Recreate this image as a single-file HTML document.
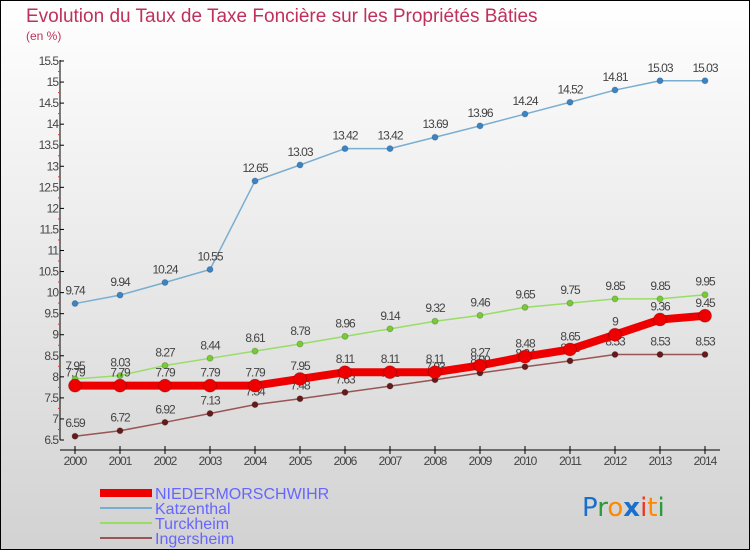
<!DOCTYPE html>
<html><head><meta charset="utf-8"><style>
body{margin:0;width:750px;height:550px;overflow:hidden}
svg{display:block;font-family:"Liberation Sans",sans-serif}
</style></head><body>
<svg id="c" width="750" height="550">
<defs><linearGradient id="bg" x1="0" y1="0" x2="0" y2="1"><stop offset="0" stop-color="#ffffff"/><stop offset="1" stop-color="#d2d2d2"/></linearGradient></defs>
<rect x="0.5" y="0.5" width="749" height="549" fill="url(#bg)" stroke="#000"/>
<text x="26" y="22" font-size="19" fill="#c0305a">Evolution du Taux de Taxe Foncière sur les Propriétés Bâties</text>
<text x="26" y="40" font-size="12" fill="#c0305a">(en %)</text>
<g id="axes"></g><g id="series"></g>
<g>
<line x1="100" y1="493" x2="152" y2="493" stroke="#ee0000" stroke-width="8"/>
<text x="155" y="499" font-size="16" fill="#6666ff">NIEDERMORSCHWIHR</text>
<line x1="100" y1="508" x2="152" y2="508" stroke="#7aaed0" stroke-width="2"/>
<text x="155" y="514" font-size="16" fill="#6666ff">Katzenthal</text>
<line x1="100" y1="523" x2="152" y2="523" stroke="#99dd66" stroke-width="2"/>
<text x="155" y="529" font-size="16" fill="#6666ff">Turckheim</text>
<line x1="100" y1="538" x2="152" y2="538" stroke="#995555" stroke-width="2"/>
<text x="155" y="544" font-size="16" fill="#6666ff">Ingersheim</text>
</g>
<g font-size="26" font-family="'DejaVu Sans',sans-serif">
<text x="582" y="516"><tspan fill="#1a6fcc">P</tspan><tspan fill="#2a9a3a">r</tspan><tspan fill="#ff8800">o</tspan><tspan fill="#1a6fcc" font-weight="bold">x</tspan><tspan fill="#ee3322">i</tspan><tspan fill="#ff8800">t</tspan><tspan fill="#2a9a3a">i</tspan></text>
</g>
</svg>
<script>
const years=[2000,2001,2002,2003,2004,2005,2006,2007,2008,2009,2010,2011,2012,2013,2014];
const yTicks=[6.5,7,7.5,8,8.5,9,9.5,10,10.5,11,11.5,12,12.5,13,13.5,14,14.5,15,15.5];
const nieder=[7.79,7.79,7.79,7.79,7.79,7.95,8.11,8.11,8.11,8.27,8.48,8.65,9,9.36,9.45];
const katz=[9.74,9.94,10.24,10.55,12.65,13.03,13.42,13.42,13.69,13.96,14.24,14.52,14.81,15.03,15.03];
const turck=[7.95,8.03,8.27,8.44,8.61,8.78,8.96,9.14,9.32,9.46,9.65,9.75,9.85,9.85,9.95];
const inger=[6.59,6.72,6.92,7.13,7.34,7.48,7.63,7.78,7.93,8.09,8.24,8.38,8.53,8.53,8.53];
const NS='http://www.w3.org/2000/svg';
const X=i=>75+i*45, Y=v=>440-(v-6.5)*(379/9);
function mk(t,a,p){const e=document.createElementNS(NS,t);for(const k in a)e.setAttribute(k,a[k]);p.appendChild(e);return e;}
const ax=document.getElementById('axes');
const yl=mk('line',{x1:60,y1:60,x2:60,y2:440,stroke:'#000'},ax);


const xl=mk('line',{x1:60,y1:450,x2:720,y2:450,stroke:'#000'},ax);


yTicks.forEach((v,k)=>{
  mk('line',{x1:60,y1:Y(v),x2:64,y2:Y(v),stroke:'#000'},ax);
  if(k<yTicks.length-1) mk('line',{x1:58,y1:Y(v+0.25),x2:60,y2:Y(v+0.25),stroke:'#e33'},ax);
  const t=mk('text',{x:58,y:Y(v)+4,'font-size':12,fill:'#444','text-anchor':'end','letter-spacing':'-1'},ax);t.textContent=v;
  
  
});
years.forEach((y,i)=>{
  mk('line',{x1:X(i),y1:446,x2:X(i),y2:454,stroke:'#000'},ax);
  const t=mk('text',{x:X(i),y:465,'font-size':12,fill:'#444','text-anchor':'middle','letter-spacing':'-1'},ax);t.textContent=y;
  
  
});
const sg=document.getElementById('series');
function series(vals,name,col,mcol,w,r){
  const g=mk('g',{},sg);
  
  
  mk('polyline',{points:vals.map((v,i)=>X(i)+','+Y(v)).join(' '),fill:'none',stroke:col,'stroke-width':w},g);
  vals.forEach((v,i)=>{
    const c=mk('circle',{cx:X(i),cy:Y(v),r:r,fill:mcol,stroke:'#00000033'},g);
    
    
    const t=mk('text',{x:X(i),y:Y(v)-9,'font-size':12,fill:'#444','text-anchor':'middle','letter-spacing':'-1'},g);t.textContent=v;
    
    
  });
}
series(katz,'katzenthal','#7aaed0','#3a85c8',1.5,3);
series(turck,'turckheim','#99dd66','#77cc33',1.5,3);
series(inger,'ingersheim','#995555','#661a1a',1.5,3);
series(nieder,'niedermorschwihr','#ee0000','#ee0000',8,6.5);
</script>
</body></html>
